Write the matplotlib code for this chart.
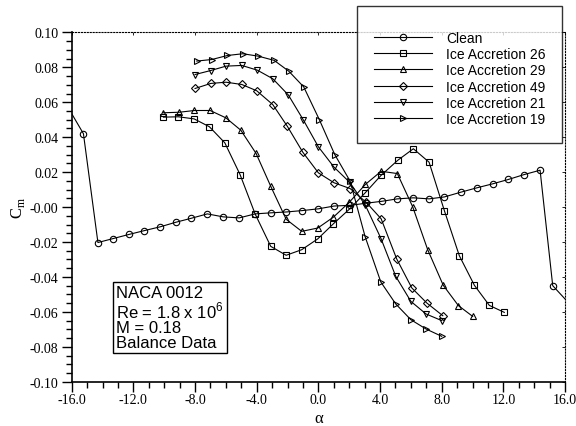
import matplotlib
matplotlib.use("Agg")
import matplotlib.pyplot as plt
from matplotlib.ticker import MultipleLocator

plt.rcParams["axes.unicode_minus"] = False
plt.rcParams["mathtext.fontset"] = "custom"
plt.rcParams["mathtext.rm"] = "Liberation Serif"
plt.rcParams["mathtext.sf"] = "Liberation Sans"

# angle of attack (deg) and pitching moment coefficient
clean_alpha = [-16.3, -15.24, -14.3, -13.3, -12.3, -11.3, -10.26, -9.25, -8.24, -7.2, -6.18,
               -5.14, -4.1, -3.09, -2.07, -1.04, 0.0, 1.02, 2.06, 3.09, 4.11, 5.12, 6.16,
               7.18, 8.17, 9.23, 10.27, 11.3, 12.32, 13.34, 14.38, 15.2, 16.3]
clean_cm = [0.058, 0.042, -0.0203, -0.018, -0.0157, -0.0135, -0.0113, -0.0087, -0.0064,
            -0.0039, -0.0056, -0.0062, -0.0039, -0.0033, -0.0028, -0.002, -0.001, 0.0006,
            0.001, 0.0022, 0.0033, 0.0047, 0.0053, 0.0047, 0.0058, 0.0085, 0.011, 0.0133,
            0.0158, 0.0186, 0.0211, -0.045, -0.0555]

ice26_alpha = [-10.05, -9.08, -8.06, -7.07, -6.07, -5.08, -4.1, -3.09, -2.09, -1.08, -0.04,
               0.97, 2.01, 3.03, 4.07, 5.15, 6.16, 7.18, 8.17, 9.14, 10.12, 11.09, 12.06]
ice26_cm = [0.0515, 0.0517, 0.0505, 0.046, 0.0368, 0.0186, -0.004, -0.0225, -0.0276, -0.0244,
            -0.0182, -0.0096, -0.0012, 0.0081, 0.0182, 0.0268, 0.0334, 0.0257, -0.002,
            -0.0278, -0.0448, -0.0563, -0.0603]

ice29_alpha = [-10.05, -9.03, -8.04, -7.02, -6.0, -5.03, -4.04, -3.09, -2.09, -1.08, -0.04,
               0.97, 2.01, 3.05, 4.07, 5.12, 6.12, 7.09, 8.1, 9.08, 10.01]
ice29_cm = [0.054, 0.0543, 0.0553, 0.0553, 0.0511, 0.044, 0.0307, 0.0119, -0.007, -0.0139,
            -0.012, -0.0058, 0.0028, 0.013, 0.0205, 0.0192, 0.0001, -0.0244, -0.0448,
            -0.0564, -0.0626]

ice49_alpha = [-8.0, -6.98, -5.99, -4.97, -4.0, -2.96, -2.01, -1.01, 0.0, 1.02, 2.06, 3.09,
               4.07, 5.08, 6.06, 7.03, 8.07]
ice49_cm = [0.0679, 0.0708, 0.0715, 0.0702, 0.0666, 0.0587, 0.0462, 0.0314, 0.0196, 0.0139,
            0.0106, 0.0028, -0.0067, -0.0297, -0.0463, -0.0549, -0.0622]

ice21_alpha = [-8.0, -6.98, -5.99, -4.97, -3.96, -2.96, -1.95, -0.97, 0.0, 1.02, 2.04, 3.05,
               4.06, 5.02, 6.0, 6.98, 8.0]
ice21_cm = [0.0759, 0.0782, 0.0807, 0.0811, 0.0784, 0.0735, 0.0642, 0.0498, 0.0345, 0.0228,
            0.0141, 0.001, -0.018, -0.0397, -0.054, -0.0612, -0.065]

ice19_alpha = [-7.89, -6.91, -5.9, -4.9, -3.89, -2.87, -1.92, -0.95, 0.06, 1.06, 2.06, 3.03,
               4.05, 5.02, 6.0, 6.98, 8.0]
ice19_cm = [0.0836, 0.0845, 0.0868, 0.0878, 0.0864, 0.084, 0.0778, 0.0688, 0.0501, 0.0301,
            0.0148, -0.0169, -0.0429, -0.0555, -0.0645, -0.0698, -0.074]

series = [
    ("Clean", clean_alpha, clean_cm, "o", 4.6),
    ("Ice Accretion 26", ice26_alpha, ice26_cm, "s", 3.9),
    ("Ice Accretion 29", ice29_alpha, ice29_cm, "^", 5.0),
    ("Ice Accretion 49", ice49_alpha, ice49_cm, "D", 4.0),
    ("Ice Accretion 21", ice21_alpha, ice21_cm, "v", 5.0),
    ("Ice Accretion 19", ice19_alpha, ice19_cm, ">", 5.0),
]

fig = plt.figure(figsize=(5.76, 4.27), dpi=100)
ax = fig.add_axes([0.1245, 0.1037, 0.8565, 0.818])

handles = []
for label, xs, ys, marker, ms in series:
    (h,) = ax.plot(xs, ys, color="black", lw=0.8, marker=marker, ms=ms,
                   mfc="none", mec="black", mew=0.8, label=label)
    handles.append(h)

ax.set_xlim(-16, 16)
ax.set_ylim(-0.10, 0.10)
ax.xaxis.set_major_locator(MultipleLocator(4))
ax.xaxis.set_minor_locator(MultipleLocator(1))
ax.yaxis.set_major_locator(MultipleLocator(0.02))
ax.yaxis.set_minor_locator(MultipleLocator(0.005))
ax.xaxis.set_major_formatter(lambda v, p: f"{v:.1f}")
ax.yaxis.set_major_formatter(lambda v, p: f"{v:.2f}")

ax.tick_params(which="major", direction="out", length=7, width=1, top=False, right=False)
ax.tick_params(which="minor", direction="out", length=4.5, width=1, top=False, right=False)
ax.tick_params(axis="x", which="major", pad=1)
ax.tick_params(axis="y", which="major", pad=2.5)
for lab in ax.get_xticklabels() + ax.get_yticklabels():
    lab.set_fontfamily("Liberation Serif")
    lab.set_fontsize(10)

for side in ["left", "bottom"]:
    ax.spines[side].set_linewidth(1.2)
for side in ["top", "right"]:
    ax.spines[side].set_linestyle(":")
    ax.spines[side].set_linewidth(0.8)

# small inward marks on the dotted top/right frame
secx = ax.secondary_xaxis("top")
secx.xaxis.set_major_locator(MultipleLocator(4))
secx.tick_params(direction="in", length=2, width=0.6, labeltop=False)
secx.spines["top"].set_visible(False)
secy = ax.secondary_yaxis("right")
secy.yaxis.set_major_locator(MultipleLocator(0.02))
secy.tick_params(direction="in", length=2, width=0.6, labelright=False)
secy.spines["right"].set_visible(False)

ax.set_xlabel("α", fontsize=12, family="Liberation Serif", labelpad=3)
ax.set_ylabel("C$_\\mathrm{m}$", fontsize=12, family="Liberation Serif", labelpad=2)

leg = fig.legend(handles=handles, loc="upper left", bbox_to_anchor=(357 / 576, 1 - 7 / 427),
                 prop={"family": "Liberation Sans", "size": 10}, frameon=True, fancybox=False,
                 borderpad=1.2, handlelength=4.2, handletextpad=1.0, labelspacing=0.16,
                 borderaxespad=0.0, title=" ", title_fontsize=5)
leg.get_frame().set_edgecolor("black")
leg.get_frame().set_linewidth(1.0)

ax.text(0.0898, 0.276, "NACA 0012\nRe = 1.8 x 10$^\\mathsf{6}$\nM = 0.18\nBalance Data",
        transform=ax.transAxes, ha="left", va="top", fontsize=12,
        family="Liberation Sans", linespacing=0.98,
        bbox=dict(boxstyle="square,pad=0.2", fc="white", ec="black", lw=1.0))

fig.savefig("out.png", dpi=100)
plt.close(fig)
